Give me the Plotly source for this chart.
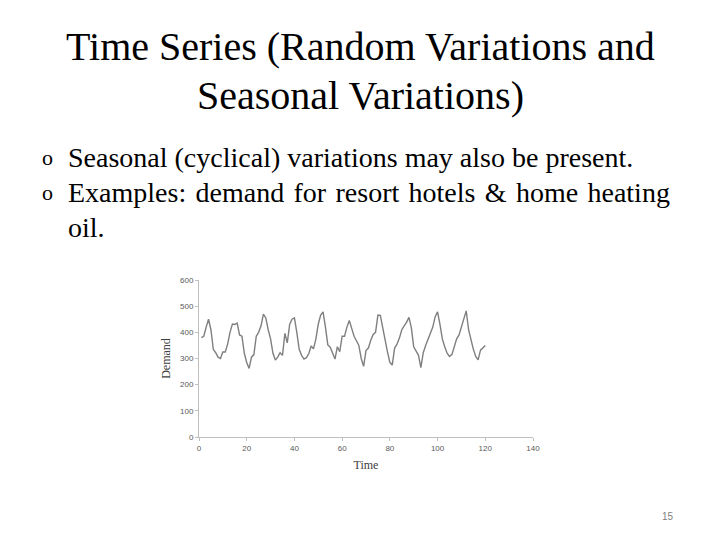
import plotly.graph_objects as go

time = list(range(1, 121))
demand = [
    380, 385, 420, 450, 410, 335, 322, 305, 300, 325,
    325, 355, 400, 432, 430, 435, 390, 385, 320, 285,
    262, 305, 315, 385, 400, 425, 470, 455, 410, 375,
    320, 294, 305, 322, 312, 396, 360, 430, 450, 455,
    400, 335, 312, 298, 303, 318, 348, 337, 375, 432,
    466, 478, 420, 352, 343, 320, 298, 345, 326, 385,
    385, 420, 445, 415, 385, 368, 350, 300, 270, 330,
    340, 370, 392, 400, 466, 465, 415, 365, 325, 285,
    275, 340, 355, 378, 410, 425, 438, 457, 418, 345,
    328, 312, 265, 322, 350, 375, 395, 420, 460, 478,
    430, 375, 345, 320, 308, 315, 345, 375, 390, 420,
    450, 482, 410, 370, 335, 308, 295, 332, 343, 350,
]
x_ticks = [0, 20, 40, 60, 80, 100, 120, 140]
y_ticks = [0, 100, 200, 300, 400, 500, 600]

title_lines = ["Time Series (Random Variations and", "Seasonal Variations)"]
bullet_lines = [
    "Seasonal (cyclical) variations may also be present.",
    "Examples: demand for resort hotels & home heating",
    "oil.",
]

W, H = 720, 540
fig = go.Figure()
fig.add_trace(go.Scatter(x=time, y=demand, mode="lines",
                         line=dict(color="#7f7f7f", width=1.4),
                         showlegend=False, hoverinfo="skip"))

axis_common = dict(showgrid=False, zeroline=False, showline=True, automargin=False,
                   linecolor="#bfbfbf", linewidth=1, ticks="outside",
                   ticklen=3, tickcolor="#bfbfbf",
                   tickfont=dict(family="Liberation Sans", size=8, color="#595959"))
fig.update_xaxes(range=[0, 140], tickvals=x_ticks, domain=[199 / W, 533 / W],
                 title=dict(text="Time", font=dict(family="Liberation Serif", size=12, color="#404040"), standoff=9),
                 **axis_common)
fig.update_yaxes(range=[0, 600], tickvals=y_ticks, domain=[1 - 437 / H, 1 - 280 / H],
                 title=dict(text="Demand", font=dict(family="Liberation Serif", size=12, color="#404040"), standoff=6),
                 **axis_common)

ann = []
for i, t in enumerate(title_lines):
    ann.append(dict(text=t, x=360 / W, y=1 - (47 + 48 * i) / H, xref="paper", yref="paper",
                    xanchor="center", yanchor="middle", showarrow=False,
                    font=dict(family="Liberation Serif", size=40, color="black")))
for i, t in enumerate(bullet_lines):
    yy = 1 - (158 + 34.5 * i) / H
    txt = t.replace(" ", " \u200a") if i == 1 else t
    ann.append(dict(text=txt, x=66 / W, y=yy, xref="paper", yref="paper",
                    xanchor="left", yanchor="middle", showarrow=False,
                    font=dict(family="Liberation Serif", size=28, color="black")))
    if i < 2:
        ann.append(dict(text="o", x=40 / W, y=yy, xref="paper", yref="paper",
                        xanchor="left", yanchor="middle", showarrow=False,
                        font=dict(family="Liberation Serif", size=22, color="black")))
ann.append(dict(text="15", x=668 / W, y=1 - 516 / H, xref="paper", yref="paper",
                xanchor="center", yanchor="middle", showarrow=False,
                font=dict(family="Liberation Sans", size=10, color="#7f7f7f")))

fig.update_layout(width=W, height=H, margin=dict(l=0, r=0, t=0, b=0, autoexpand=False),
                  paper_bgcolor="white", plot_bgcolor="white", annotations=ann)
fig.write_html("out.html", config={"displayModeBar": False},
               post_script="document.body.style.margin='0';")
